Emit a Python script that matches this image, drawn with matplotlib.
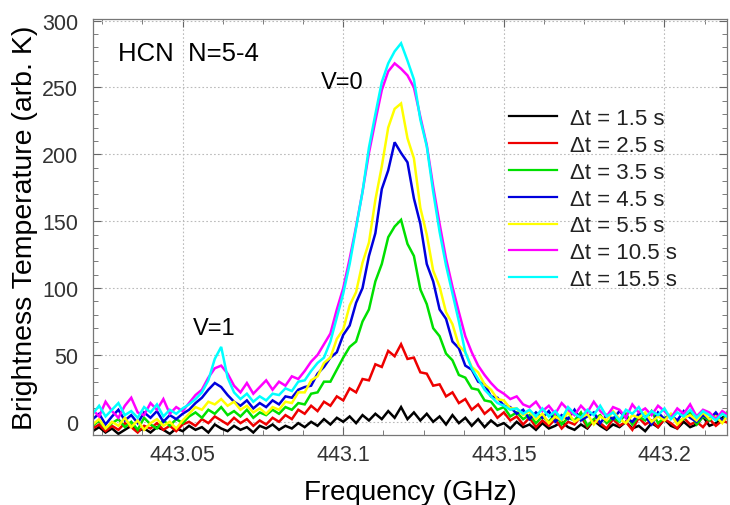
import numpy as np
import matplotlib
matplotlib.use("Agg")
import matplotlib.pyplot as plt
from matplotlib.ticker import MultipleLocator

# frequency grid (GHz): 443.022 ... 443.220, step 0.002
freq_start = 443.022
freq_step = 0.002
n_points = 100

labels = ["Δt = 1.5 s", "Δt = 2.5 s", "Δt = 3.5 s", "Δt = 4.5 s",
          "Δt = 5.5 s", "Δt = 10.5 s", "Δt = 15.5 s"]
colors = ["#000000", "#ee0000", "#00e000", "#0000dd", "#ffff00", "#ff00ff", "#00ffff"]

t_1_5 = [-7, -4, -8, -5, -9, -6, -3, -7, -5, -8, -4, -6, -9, -5, -7, -3, -6, -4, -8, -2,
         -5, -7, -3, -6, -4, -8, -3, -5, -2, -6, -3, -5, -1, -4, 0, -3, 2, -2, 3, 0,
         4, -1, 5, 1, 6, 2, 8, 3, 11, 2, 7, 1, 6, 0, 4, -2, 5, -1, 3, -3,
         2, -4, 1, -3, -1, -5, 0, -4, -2, -6, -1, -5, -3, 0, -4, -6, -2, -5, 1, -3,
         -6, -2, -4, 0, -5, -3, -7, -1, -4, 2, -3, -5, 0, -4, -2, 4, -3, -1, 3, 6]

t_2_5 = [-5, -2, -7, -3, -6, -1, -4, -8, -3, -5, -1, -6, -3, -7, -2, 0, -3, 2, -1, 4,
         1, -2, 3, -1, 2, -3, 1, -2, 3, 0, 5, 2, 9, 6, 12, 8, 15, 12, 19, 16,
         25, 22, 32, 31, 43, 41, 53, 49, 58, 47, 48, 37, 36, 27, 28, 19, 22, 14, 17, 9,
         13, 6, 10, 3, 7, 1, 4, -2, 3, -4, 1, -3, 2, -5, 0, -2, 4, -4, 1, -1,
         -5, 2, -3, 0, -6, 3, -2, 1, -4, 2, -1, -5, 3, -2, 0, -4, 2, -3, 1, -1]

t_3_5 = [-3, 1, -5, -1, 2, -4, 0, -6, 3, -2, -5, 1, -3, 2, -1, 4, 7, 3, 9, 6,
         11, 5, 8, 4, 9, 3, 7, 5, 9, 6, 11, 9, 14, 13, 21, 22, 30, 30, 39, 48,
         56, 60, 75, 84, 105, 118, 138, 146, 151, 133, 124, 99, 88, 70, 64, 51, 46, 35, 33, 25,
         24, 16, 15, 9, 11, 4, 7, 2, 5, -1, 4, 0, 6, -2, 3, 1, 7, -3, 2, 5,
         -1, 3, 0, 6, -2, 4, 1, 8, -1, 3, 5, 0, 2, 7, -2, 4, 1, 6, 0, 9]

t_4_5 = [2, 6, -2, 4, 9, 1, 5, -1, 7, 3, 8, 0, 5, 2, 6, 9, 14, 18, 24, 29,
         26, 20, 15, 12, 16, 10, 14, 11, 16, 13, 19, 18, 24, 26, 27, 36, 41, 48, 52, 65,
         72, 89, 100, 124, 141, 174, 188, 209, 201, 194, 167, 148, 118, 105, 84, 77, 60, 55, 42, 39,
         30, 28, 19, 18, 12, 11, 6, 9, 2, 7, 3, 8, 0, 5, 2, 9, 1, 4, 7, -1,
         5, 2, 8, 3, 0, 6, 4, -2, 7, 2, 5, 1, 8, 3, 0, 5, 2, 7, 1, 4]

t_5_5 = [-2, 2, -5, 0, -3, 3, -4, 1, -6, -1, 2, -3, 0, -5, 1, 6, 11, 9, 15, 13,
         17, 12, 15, 9, 12, 7, 10, 6, 11, 9, 15, 14, 22, 22, 31, 34, 44, 48, 62, 69,
         87, 97, 119, 134, 166, 191, 220, 234, 238, 212, 197, 160, 140, 113, 101, 82, 73, 57, 52, 41,
         37, 28, 24, 17, 16, 10, 10, 5, 8, 2, 6, -1, 4, 1, 7, 0, 3, 6, -2, 4,
         1, 8, 2, -1, 5, 3, 7, 0, 4, 1, 6, -2, 3, 5, 1, 7, 2, 4, -1, 6]

t_10_5 = [9, 4, 15, 8, 3, 12, 18, 7, 5, 14, 9, 17, 6, 11, 8, 14, 20, 24, 33, 40,
          42, 36, 27, 22, 29, 21, 26, 31, 24, 30, 27, 34, 32, 38, 45, 50, 58, 66, 84, 100,
          122, 146, 172, 201, 225, 248, 262, 268, 264, 259, 250, 228, 207, 176, 148, 122, 101, 82, 64, 52,
          42, 35, 29, 24, 21, 17, 19, 13, 11, 15, 8, 12, 6, 14, 9, 5, 12, 7, 15, 8,
          4, 11, 9, 3, 13, 7, 10, 5, 12, 8, 3, 10, 6, 13, 4, 9, 7, 2, 8, 5]

t_15_5 = [6, 12, 4, 9, 14, 5, 8, 3, 11, 7, 13, 4, 9, 6, 10, 13, 17, 22, 31, 47,
          56, 33, 22, 17, 21, 15, 19, 16, 21, 20, 25, 23, 30, 31, 38, 44, 48, 60, 78, 96,
          118, 145, 172, 205, 230, 254, 268, 277, 283, 270, 256, 226, 206, 172, 142, 117, 96, 75, 52, 40,
          32, 24, 19, 14, 12, 9, 10, 6, 9, 4, 10, 4, 8, 2, 11, 6, 3, 9, 5, 12,
          4, 7, 1, 9, 6, 11, 3, 8, 5, 10, 2, 7, 4, 9, 3, 8, 5, 1, 6, 3]

series = [t_1_5, t_2_5, t_3_5, t_4_5, t_5_5, t_10_5, t_15_5]

xticks = [443.05, 443.1, 443.15, 443.2]
xtick_labels = ["443.05", "443.1", "443.15", "443.2"]
yticks = [0, 50, 100, 150, 200, 250, 300]

freq = freq_start + freq_step * np.arange(n_points)

plt.rcParams['font.family'] = ['Liberation Sans', 'DejaVu Sans']

fig = plt.figure(figsize=(7.30, 5.06), dpi=100)
ax = fig.add_axes([0.127, 0.138, 0.869, 0.822])

for vals, c, lab in zip(series, colors, labels):
    ax.plot(freq, vals, color=c, lw=1.8, label=lab, solid_joinstyle='miter')

ax.set_xlim(443.022, 443.2195)
ax.set_ylim(-10, 301)
ax.set_xticks(xticks)
ax.set_xticklabels(xtick_labels)
ax.set_yticks(yticks)
ax.xaxis.set_minor_locator(MultipleLocator(0.0125))
ax.yaxis.set_minor_locator(MultipleLocator(10))
ax.tick_params(which='both', direction='in', top=True, right=True, colors='#666666',
               labelcolor='#333333', labelsize=15.5)
ax.tick_params(which='major', length=6, width=0.8)
ax.tick_params(which='minor', length=3.5, width=0.6)
ax.tick_params(axis='x', which='major', pad=6.5)
ax.tick_params(axis='y', which='major', pad=10.5)
ax.grid(True, which='major', color='#bbbbbb', linestyle=(0, (1.5, 2)), linewidth=0.8)
ax.set_axisbelow(True)
for s in ax.spines.values():
    s.set_color('#777777')
    s.set_linewidth(0.9)

ax.set_xlabel("Frequency (GHz)", fontsize=20, labelpad=10)
ax.set_ylabel("Brightness Temperature (arb. K)", fontsize=20.5, labelpad=3)

ax.text(0.04, 0.92, "HCN  N=5-4", transform=ax.transAxes, fontsize=18.5, ha='left', va='center')
ax.text(443.0996, 254, "V=0", fontsize=17, ha='center', va='center')
ax.text(443.0597, 70, "V=1", fontsize=17, ha='center', va='center')

leg = ax.legend(loc='upper left', bbox_to_anchor=(0.657, 0.786), frameon=False,
                fontsize=16, handlelength=2.16, handletextpad=0.55, labelspacing=0.26,
                borderaxespad=0, borderpad=0)
for t in leg.get_texts():
    t.set_color('#222222')
for h in leg.get_lines():
    h.set_linewidth(1.6)

fig.savefig("out.png", dpi=100)
